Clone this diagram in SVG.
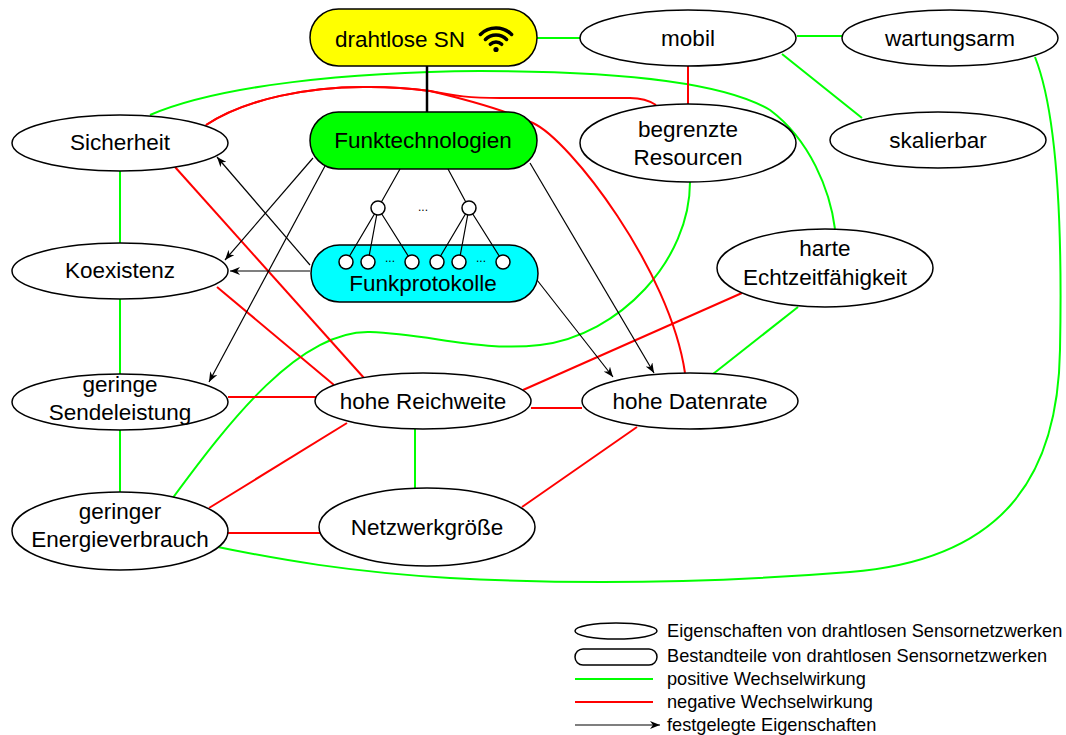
<svg xmlns="http://www.w3.org/2000/svg" width="1066" height="735" viewBox="0 0 1066 735">
<defs>
<style>
.g{fill:none;stroke:#00ff00;stroke-width:2}
.r{fill:none;stroke:#ff0000;stroke-width:2}
.a{fill:none;stroke:#000;stroke-width:1.2}
.e{fill:#fff;stroke:#000;stroke-width:1.5}
.t{font-family:"Liberation Sans",Arial,sans-serif;font-size:22.5px;text-anchor:middle;fill:#000}
.lt{font-family:"Liberation Sans",Arial,sans-serif;font-size:18.2px;fill:#000}
.dots{font-family:"Liberation Sans",Arial,sans-serif;font-size:12px;text-anchor:middle;fill:#000}
.c{fill:#fff;stroke:#000;stroke-width:1.5}
</style>
<marker id="ah" viewBox="0 0 10 8" refX="10" refY="4" markerWidth="10" markerHeight="8" markerUnits="userSpaceOnUse" orient="auto"><path d="M0,0 L10,4 L0,8 L3,4 z" fill="#000"/></marker>
</defs>
<rect width="1066" height="735" fill="#fff"/>
<g id="connectors">
<path class="g" d="M537,38 L581,38"/>
<path class="g" d="M797,36 L842,36"/>
<path class="g" d="M782,54 L862,118"/>
<path class="g" d="M120,171 L120,243"/>
<path class="g" d="M120,299 L120,374"/>
<path class="g" d="M120,430 L120,492"/>
<path class="g" d="M415,429 L415,488"/>
<path class="g" d="M798,307 L713,374"/>
<path class="g" d="M150,115 C220,85 350,72 480,71 C600,71 720,80 770,110 C810,140 830,190 835,229"/>
<path class="g" d="M690,182 C690,260 620,335 540,345 C480,352 430,334 370,332 C300,330 230,420 172,499"/>
<path class="g" d="M1035,57 C1060,120 1062,250 1060,350 C1058,480 1000,560 850,572 C700,584 560,584 450,578 C350,572 280,560 208,545"/>
<path class="r" d="M688,66 L688,104"/>
<path class="r" d="M206,125 C245,99 310,86 370,87 C395,87 415,89 430,91 C455,96 470,98 500,98 L630,98 C642,98 650,101 656,105"/>
<path class="r" d="M206,125 C245,99 310,86 370,87 C395,87 415,89 430,91 C460,98 500,108 533,123 C570,140 670,270 685,373"/>
<path class="r" d="M175,167 L364,378"/>
<path class="r" d="M217,287 L334,385"/>
<path class="r" d="M228,397 L316,397"/>
<path class="r" d="M209,508 L347,423"/>
<path class="r" d="M228,533 L320,533"/>
<path class="r" d="M531,408 L582,408"/>
<path class="r" d="M523,390 L742,293"/>
<path class="r" d="M522,507 L637,427"/>
<path class="a" d="M313,158 L225,260" marker-end="url(#ah)"/>
<path class="a" d="M325,166 L209,382" marker-end="url(#ah)"/>
<path class="a" d="M310,265 L217,157" marker-end="url(#ah)"/>
<path class="a" d="M310,271 L230,271" marker-end="url(#ah)"/>
<path class="a" d="M530,163 L654,373" marker-end="url(#ah)"/>
<path class="a" d="M537,280 L613,377" marker-end="url(#ah)"/>
<path d="M427,66 L427,112" stroke="#000" stroke-width="2.5"/>
</g>
<g id="drahtlose-sn">
<rect x="310" y="9" width="227" height="57" rx="28.5" fill="#ffff00" stroke="#000" stroke-width="1.5"/>
<text class="t" x="400" y="47">drahtlose SN</text>
<g fill="none" stroke="#000" stroke-width="3.5" stroke-linecap="round">
<path d="M480.4,34.4 A22,22 0 0 1 511.6,34.4"/>
<path d="M485.4,39.4 A15,15 0 0 1 506.6,39.4"/>
<path d="M490.3,44.3 A8,8 0 0 1 501.7,44.3"/>
</g>
<circle cx="496" cy="49.5" r="2.6" fill="#000"/>
</g>
<g id="funktechnologien">
<rect x="310" y="112" width="227" height="57" rx="28.5" fill="#00ff00" stroke="#000" stroke-width="1.5"/>
<text class="t" x="423" y="148">Funktechnologien</text>
</g>
<g id="funkprotokolle">
<rect x="311" y="245" width="227" height="57" rx="28.5" fill="#00ffff" stroke="#000" stroke-width="1.5"/>
<text class="t" x="423" y="291">Funkprotokolle</text>
</g>
<g id="protokoll-baum">
<path class="a" d="M400,169 L378,208 M448,169 L469,208 M378,208 L346,262 M378,208 L368,262 M378,208 L412,262 M469,208 L437,262 M469,208 L459,262 M469,208 L503,262"/>
<circle class="c" cx="378" cy="208" r="7"/>
<circle class="c" cx="469" cy="208" r="7"/>
<circle class="c" cx="346" cy="262" r="7"/>
<circle class="c" cx="368" cy="262" r="7"/>
<circle class="c" cx="412" cy="262" r="7"/>
<circle class="c" cx="437" cy="262" r="7"/>
<circle class="c" cx="459" cy="262" r="7"/>
<circle class="c" cx="503" cy="262" r="7"/>
<text class="dots" x="423" y="211">...</text>
<text class="dots" x="390" y="262">...</text>
<text class="dots" x="481" y="262">...</text>
</g>
<g id="mobil"><ellipse class="e" cx="688" cy="38" rx="108" ry="28"/><text class="t" x="688" y="46">mobil</text></g>
<g id="wartungsarm"><ellipse class="e" cx="950" cy="38" rx="108" ry="28"/><text class="t" x="950" y="46">wartungsarm</text></g>
<g id="skalierbar"><ellipse class="e" cx="938" cy="140" rx="108" ry="28"/><text class="t" x="938" y="148">skalierbar</text></g>
<g id="begrenzte-resourcen"><ellipse class="e" cx="688" cy="143" rx="108" ry="39"/><text class="t" x="688" y="137">begrenzte</text><text class="t" x="688" y="165">Resourcen</text></g>
<g id="harte-echtzeit"><ellipse class="e" cx="825" cy="268" rx="108" ry="39"/><text class="t" x="825" y="256">harte</text><text class="t" x="825" y="285">Echtzeitfähigkeit</text></g>
<g id="sicherheit"><ellipse class="e" cx="120" cy="143" rx="108" ry="28"/><text class="t" x="120" y="150">Sicherheit</text></g>
<g id="koexistenz"><ellipse class="e" cx="120" cy="271" rx="108" ry="28"/><text class="t" x="120" y="278">Koexistenz</text></g>
<g id="geringe-sendeleistung"><ellipse class="e" cx="120" cy="402" rx="108" ry="28"/><text class="t" x="120" y="392">geringe</text><text class="t" x="120" y="420">Sendeleistung</text></g>
<g id="geringer-energieverbrauch"><ellipse class="e" cx="120" cy="531" rx="108" ry="39"/><text class="t" x="120" y="519">geringer</text><text class="t" x="120" y="547">Energieverbrauch</text></g>
<g id="hohe-reichweite"><ellipse class="e" cx="423" cy="401" rx="108" ry="28"/><text class="t" x="423" y="409">hohe Reichweite</text></g>
<g id="netzwerkgroesse"><ellipse class="e" cx="427" cy="527" rx="108" ry="39"/><text class="t" x="427" y="535">Netzwerkgröße</text></g>
<g id="hohe-datenrate"><ellipse class="e" cx="690" cy="401" rx="108" ry="28"/><text class="t" x="690" y="409">hohe Datenrate</text></g>
<g id="legende">
<ellipse class="e" cx="616" cy="631" rx="41" ry="8"/>
<rect x="575" y="649" width="82" height="16" rx="8" fill="#fff" stroke="#000" stroke-width="1.5"/>
<path class="g" d="M575,679 L653,679"/>
<path class="r" d="M575,702 L653,702"/>
<path class="a" d="M575,725 L660,725" marker-end="url(#ah)"/>
<text class="lt" x="667" y="637">Eigenschaften von drahtlosen Sensornetzwerken</text>
<text class="lt" x="667" y="662">Bestandteile von drahtlosen Sensornetzwerken</text>
<text class="lt" x="667" y="685">positive Wechselwirkung</text>
<text class="lt" x="667" y="708">negative Wechselwirkung</text>
<text class="lt" x="667" y="731">festgelegte Eigenschaften</text>
</g>
</svg>
